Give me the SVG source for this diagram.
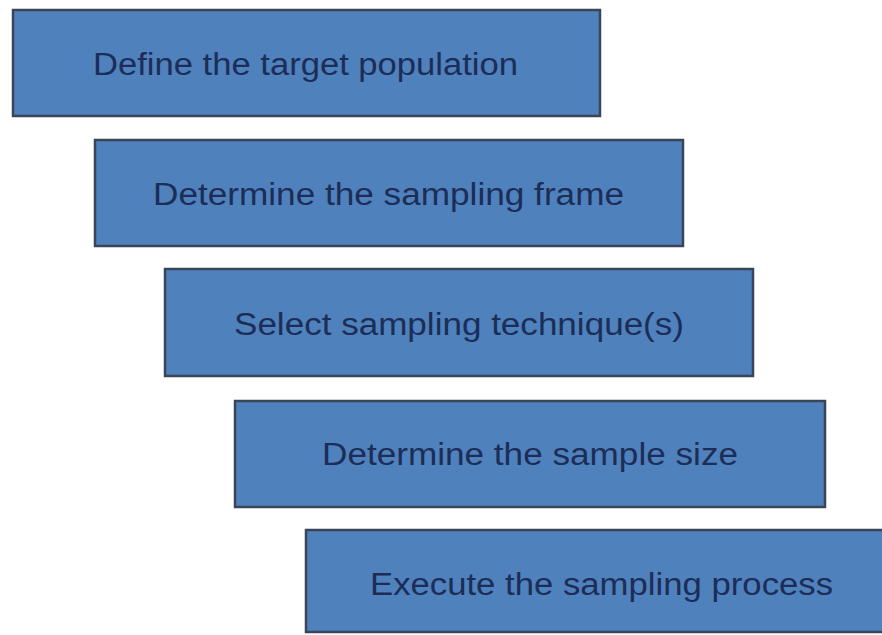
<svg xmlns="http://www.w3.org/2000/svg" width="882" height="635" viewBox="0 0 882 635">
<style>
.box{fill:#4f81bd;stroke:#3a4658;stroke-width:2.5}
.t{font-family:"Liberation Sans",Arial,sans-serif;font-size:31px;fill:#1c2d57}
</style>
<rect width="882" height="635" fill="#ffffff"/>
<g id="connectors"></g>
<g id="n1"><rect class="box" x="13" y="10" width="587" height="106"/><text class="t" x="93" y="75" textLength="425" lengthAdjust="spacingAndGlyphs">Define the target population</text></g>
<g id="n2"><rect class="box" x="95" y="140" width="588" height="106"/><text class="t" x="153" y="205" textLength="471" lengthAdjust="spacingAndGlyphs">Determine the sampling frame</text></g>
<g id="n3"><rect class="box" x="165" y="269" width="588" height="107"/><text class="t" x="234" y="335" textLength="450" lengthAdjust="spacingAndGlyphs">Select sampling technique(s)</text></g>
<g id="n4"><rect class="box" x="235" y="401" width="590" height="106"/><text class="t" x="322" y="465" textLength="416" lengthAdjust="spacingAndGlyphs">Determine the sample size</text></g>
<g id="n5"><rect class="box" x="306" y="530" width="590" height="102"/><text class="t" x="370" y="595" textLength="463" lengthAdjust="spacingAndGlyphs">Execute the sampling process</text></g>
</svg>
